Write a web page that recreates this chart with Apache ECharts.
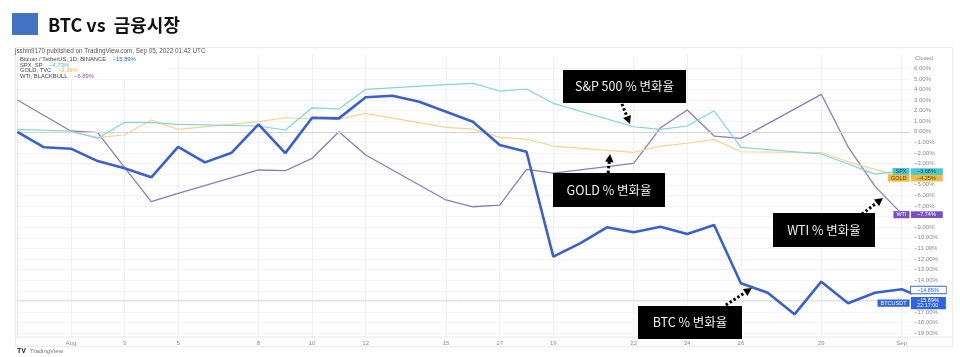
<!DOCTYPE html>
<html><head><meta charset="utf-8">
<script src="https://cdn.jsdelivr.net/npm/echarts@6/dist/echarts.min.js"></script>
<style>html,body{margin:0;padding:0;background:#fff}#c{width:960px;height:357px}</style>
</head><body><div id="c"></div>
<script>
// Days: index 0 = Jul 30, 2022 ... index 34 = Sep 2, 2022
const days = ['07-30','07-31','08-01','08-02','08-03','08-04','08-05','08-06','08-07','08-08','08-09','08-10','08-11','08-12','08-13','08-14','08-15','08-16','08-17','08-18','08-19','08-20','08-21','08-22','08-23','08-24','08-25','08-26','08-27','08-28','08-29','08-30','08-31','09-01','09-02'];
const btc  = [0,-1.46,-1.59,-2.76,-3.44,-4.29,-1.41,-2.88,-1.97,0.71,-2.01,1.33,1.27,3.26,3.40,2.84,1.90,0.96,-1.24,-1.88,-11.78,-10.52,-9.01,-9.48,-8.95,-9.64,-8.79,-14.29,-15.18,-17.22,-14.14,-16.18,-15.18,-14.85,-15.89];
const spx  = [0.23,null,0.08,-0.62,0.90,0.87,0.71,null,null,0.55,0.17,2.27,2.16,4.01,null,null,4.46,4.57,3.85,4.04,2.69,null,null,0.48,0.23,0.55,1.99,-1.46,null,null,-2.09,-3.04,-3.99,-3.68,null];
const gold = [-0.08,null,-0.02,-0.52,-0.30,1.12,0.23,null,null,0.96,1.33,1.21,1.18,1.75,null,null,0.42,0.26,-0.52,-0.68,-1.34,null,null,-1.94,-1.34,-1.08,-0.71,-1.88,null,null,-1.97,-2.82,-3.54,-4.25,null];
const wti  = [3.00,null,0.08,-0.08,-3.35,-6.59,-5.80,null,null,-3.60,-3.67,-2.50,0.01,-2.19,null,null,-6.43,-7.07,-6.91,-3.54,-3.89,null,null,-2.98,0.38,2.06,-0.40,-0.62,null,null,3.54,-1.41,-5.12,-7.74,null];

const tickDays   = [2,4,6,9,11,13,16,18,20,23,25,27,30,33];
const tickLabels = ['Aug','3','5','8','10','12','15','17','19','22','24','26','29','Sep'];
const yTicks = [6,5,4,3,2,1,0,-1,-2,-3,-4,-5,-6,-7,-8,-9,-10,-11,-12,-13,-14,-15,-16,-17,-18,-19];

const C = {btc:'#3a60cf', spx:'#84d4d8', gold:'#f2d593', wti:'#8a7cbd'};
const FONT = "'Noto Sans CJK KR','Noto Sans',sans-serif";
const SFONT = "'Liberation Sans','DejaVu Sans',sans-serif";

const chart = echarts.init(document.getElementById('c'), null, {renderer:'canvas'});
const pairs = arr => arr.map((v,i)=>[i, v]);

function lineSeries(name, arr, color, width, z, extra){
  return Object.assign({
    name, type:'line', data:pairs(arr), symbol:'none', connectNulls:true,
    lineStyle:{color, width}, itemStyle:{color}, z, animation:false, clip:true
  }, extra||{});
}

chart.setOption({
  animation:false,
  grid:{left:17.3, right:50, top:55, bottom:20, outerBoundsMode:'none'},
  xAxis:{
    type:'value', min:0, max:33.31,
    axisLine:{show:true, lineStyle:{color:'#e3e5ea'}},
    axisTick:{show:false, customValues:tickDays},
    axisLabel:{customValues:tickDays, fontSize:6, color:'#8a8a8a', margin:3, fontFamily:SFONT,
      formatter:v=>{const k=tickDays.indexOf(Math.round(v)); return k>=0?tickLabels[k]:'';}},
    splitLine:{show:true, lineStyle:{color:'#eef0f4', width:1}}
  },
  yAxis:{
    type:'value', position:'right', min:-19.36, max:7.25,
    axisLine:{show:true, lineStyle:{color:'#e3e5ea'}},
    axisTick:{show:false, customValues:yTicks},
    axisLabel:{customValues:yTicks, fontSize:6, color:'#8a8a8a', margin:4, fontFamily:SFONT,
      formatter:v=>(v<0?'\u2212':'')+Math.abs(v).toFixed(2)+'%'},
    splitLine:{show:true, lineStyle:{color:'#f3f4f6', width:1}}
  },
  series:[
    lineSeries('WTI', wti, C.wti, 1.3, 3),
    lineSeries('GOLD', gold, C.gold, 1.2, 4),
    lineSeries('SPX', spx, C.spx, 1.2, 5),
    lineSeries('BTC', btc, C.btc, 2.6, 6, {
      markLine:{silent:true, symbol:'none', label:{show:false},
        data:[
          {yAxis:0, lineStyle:{color:'#d4d4d4', width:1.2, type:'solid'}},
          {yAxis:btc[34], lineStyle:{color:'#c4c4c4', width:1, type:'dotted'}}
        ]}
    })
  ]
});

// ---------- decorations ----------
const px = (i,v)=>chart.convertToPixel({gridIndex:0},[i,v]);
const yOf = v=>chart.convertToPixel({yAxisIndex:0}, v);
const g = [];

// title
g.push({type:'rect', shape:{x:12,y:13,width:26,height:22}, style:{fill:'#4472c4'}});
g.push({type:'text', x:48, y:25, style:{text:'BTC vs  금융시장', font:"bold 18px "+FONT, fill:'#111', verticalAlign:'middle'}});

// chart frame
g.push({type:'rect', shape:{x:15.5,y:47.5,width:937,height:299}, style:{fill:'none', stroke:'#ececec', lineWidth:1}, z:0});
g.push({type:'line', shape:{x1:15.5,y1:337,x2:952,y2:337}, style:{stroke:'#e8e8e8', lineWidth:1}, z:0});

// header & legend
g.push({type:'rect', shape:{x:18,y:55.5,width:150,height:23}, style:{fill:'#fff'}, z:1});
g.push({type:'text', x:15, y:51, z:2, style:{text:'jsshin9170 published on TradingView.com, Sep 05, 2022 01:42 UTC', font:"6.3px "+SFONT, fill:'#555', verticalAlign:'middle'}});
const legend = [
  ['Bitcoin / TetherUS, 1D, BINANCE', '\u221215.89%', '#2f63e0'],
  ['SPX, SP', '\u22124.73%', '#3fc0cc'],
  ['GOLD, TVC', '\u22123.39%', '#f0b534'],
  ['WTI, BLACKBULL', '\u22126.89%', '#7d55c7']
];
legend.forEach((l,k)=>{
  g.push({type:'text', x:20, y:59.5+k*5.5, z:2, style:{
    text:'{a|'+l[0]+'}  {b|'+l[1]+'}', verticalAlign:'middle',
    rich:{a:{fontSize:5.8, fontFamily:SFONT, fill:'#444'}, b:{fontSize:5.8, fontFamily:SFONT, fill:l[2]}}
  }});
});
g.push({type:'text', x:915, y:58, z:2, style:{text:'Closed', font:"5.8px "+SFONT, fill:'#8a8a8a', verticalAlign:'middle'}});

// TradingView logo
g.push({type:'text', x:17, y:351, style:{text:'TV', font:"bold 7px "+SFONT, fill:'#222', verticalAlign:'middle'}});
g.push({type:'text', x:30, y:351, style:{text:'TradingView', font:"6px "+SFONT, fill:'#777', verticalAlign:'middle'}});

// right-axis tags
function tag(v, dy, nameTxt, valTxt, bg, fg, border){
  const y = yOf(v)+dy;
  if(nameTxt){
    g.push({type:'text', x:909.5, y, z:50, style:{text:nameTxt, fontSize:5.5, fontFamily:SFONT, fill:fg,
      backgroundColor:bg, padding:[0.8,3,0.4,3], align:'right', verticalAlign:'middle'}});
  }
  g.push({type:'text', x:911, y, z:50, style:{text:valTxt, fontSize:5.5, fontFamily:SFONT, fill:fg,
    backgroundColor:bg, borderColor:border||bg, borderWidth:border?0.8:0, padding:[0.8,7,0.4,6], align:'left', verticalAlign:'middle', lineHeight:5.5}});
}
tag(spx[33], 0.8, 'SPX', '\u22123.68%', '#47c6d3', '#1b4d55');
tag(gold[33], 1.2, 'GOLD', '\u22124.25%', '#efbb46', '#5a4300');
tag(wti[33], 0.8, 'WTI', '\u22127.74%', '#7a4fc4', '#fff');
tag(btc[33], 0.8, null, '\u221214.85%', '#fff', '#2f63e0', '#2f63e0');
tag(btc[34], 2.8, 'BTCUSDT', '\u221215.89%\n22:17:00', '#2f63e0', '#fff');

// annotation boxes
function box(x,y,w,h,txt){
  g.push({type:'rect', z:100, shape:{x,y,width:w,height:h}, style:{fill:'#000'}});
  g.push({type:'text', z:101, x:x+w/2, y:y+h/2, style:{text:txt, font:"12.5px "+FONT, fill:'#efefef', align:'center', verticalAlign:'middle'}});
}
box(563,70,123,33,'S&P 500 % 변화율');
box(553,173,112,34,'GOLD % 변화율');
box(773,213,102,34,'WTI % 변화율');
box(638,306,104,33,'BTC % 변화율');

// dotted arrows anchored on data points
function arrow(i, v, dx, dy){
  const [tx,ty] = px(i,v);
  const sx=tx+dx, sy=ty+dy;
  const L=Math.hypot(dx,dy), ux=-dx/L, uy=-dy/L;
  const hl=8, hw=4.2;
  const bx=tx-ux*hl, by=ty-uy*hl;
  const nx=-uy, ny=ux;
  g.push({type:'line', z:102, shape:{x1:sx,y1:sy,x2:bx,y2:by}, style:{stroke:'#000', lineWidth:3, lineDash:[2.4,2.2]}});
  g.push({type:'polygon', z:102, shape:{points:[[tx,ty],[bx+nx*hw,by+ny*hw],[bx-nx*hw,by-ny*hw]]}, style:{fill:'#000'}});
}
arrow(22.86, 0.74, -8, -20);
arrow(22.12, -2.09, -2, 19);
arrow(32.30, -6.25, -21, 16);
arrow(27.41, -14.74, -26, 17);

chart.setOption({graphic:g});
</script>
</body></html>
